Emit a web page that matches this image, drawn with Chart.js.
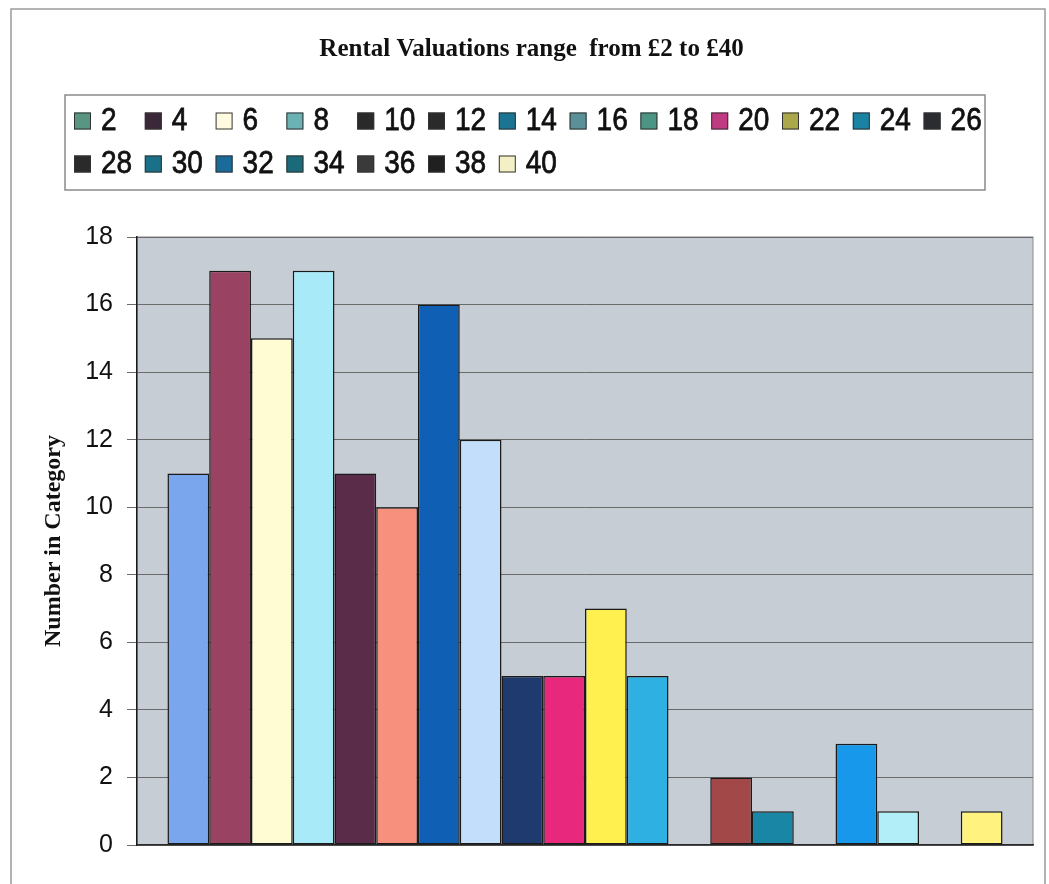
<!DOCTYPE html>
<html>
<head>
<meta charset="utf-8">
<script src="https://cdn.jsdelivr.net/npm/chart.js@4/dist/chart.umd.min.js"></script>
<style>
  html, body { margin: 0; padding: 0; background: #ffffff; }
  #wrap { width: 1049px; height: 884px; }
</style>
</head>
<body>
<div id="wrap"><canvas id="c" width="1049" height="884"></canvas></div>
<script>
// ---- data ----
const chartTitle = 'Rental Valuations range  from £2 to £40';
const yAxisTitle = 'Number in Category';
const categories = [''];
const seriesNames = ['2','4','6','8','10','12','14','16','18','20','22','24','26','28','30','32','34','36','38','40'];
const seriesValues = [11,17,15,17,11,10,16,12,5,5,7,5,0,2,1,0,3,1,0,1];
const barColors = ['#7aa6ee','#9a4262','#fffbd2','#a8eaf8','#5a2c4a','#f8907e','#0f5fb5','#c2defa','#1f3a6e','#e8287c','#fff050','#2eb0e2','#800080','#a24848','#1a86a6','#0000ff','#1898ea','#b2eef8','#ccffcc','#fff27e'];
const legendSwatchColors = ['#5a9482','#3a2838','#fffbe0','#6ab2b4','#2a2a2a','#2a2a2a','#1a7492','#5a9098','#4c9484','#c03a82','#aaa84a','#1a82a2','#2a2c32','#2a2a2a','#1a7088','#1a6a9a','#1a6a7a','#3a3a3a','#202020','#f2f0c4'];
const yMin = 0, yMax = 18, yStep = 2;

const datasets = seriesNames.map((name, i) => ({
  label: name,
  data: [seriesValues[i]],
  backgroundColor: barColors[i],
  borderColor: '#1a1a1a',
  borderWidth: 1.5,
  borderSkipped: false,
  categoryPercentage: 0.932,
  barPercentage: 1.0
}));

const decorPlugin = {
  id: 'decor',
  beforeDraw(chart) {
    const ctx = chart.ctx, a = chart.chartArea;
    ctx.save();
    ctx.fillStyle = '#ffffff';
    ctx.fillRect(0, 0, chart.width, chart.height);
    // outer frame
    ctx.strokeStyle = '#9a9a9a';
    ctx.lineWidth = 1.5;
    ctx.beginPath();
    ctx.moveTo(11, 884); ctx.lineTo(11, 9); ctx.lineTo(1045, 9); ctx.lineTo(1045, 884);
    ctx.stroke();
    // plot background
    ctx.fillStyle = '#c6cdd4';
    ctx.fillRect(a.left, a.top, a.right - a.left, a.bottom - a.top);
    ctx.strokeStyle = '#8a8a8a';
    ctx.lineWidth = 1;
    ctx.strokeRect(a.left, a.top, a.right - a.left, a.bottom - a.top);
    ctx.restore();
  },
  afterDraw(chart) {
    const ctx = chart.ctx;
    ctx.save();
    // legend box
    ctx.strokeStyle = '#8a8a8a';
    ctx.lineWidth = 1.5;
    ctx.strokeRect(65, 95, 920, 95);
    const perRow = 13, step = 70.8, x0 = 74, rows = [121, 164], sw = 17;
    ctx.textBaseline = 'middle';
    ctx.textAlign = 'left';
    chart.data.datasets.forEach((ds, i) => {
      const r = Math.floor(i / perRow), c = i % perRow;
      const x = x0 + c * step, y = rows[r];
      ctx.fillStyle = legendSwatchColors[i];
      ctx.fillRect(x, y - sw / 2, sw, sw);
      ctx.strokeStyle = '#333333';
      ctx.lineWidth = 1;
      ctx.strokeRect(x + 0.5, y - sw / 2 + 0.5, sw - 1, sw - 1);
      ctx.save();
      ctx.translate(x + 27, y + 1);
      ctx.scale(1, 1.1);
      ctx.font = '28px "Liberation Sans", Arial, sans-serif';
      ctx.fillStyle = '#111111';
      ctx.strokeStyle = '#111111';
      ctx.lineWidth = 0.7;
      ctx.fillText(ds.label, 0, 0);
      ctx.strokeText(ds.label, 0, 0);
      ctx.restore();
    });
    ctx.restore();
  }
};

new Chart(document.getElementById('c'), {
  type: 'bar',
  data: { labels: categories, datasets },
  options: {
    responsive: false,
    animation: false,
    layout: { padding: { left: 30, right: 16, top: 0, bottom: 0 } },
    plugins: {
      legend: { display: false },
      tooltip: { enabled: false },
      title: {
        display: true,
        text: chartTitle,
        color: '#111111',
        font: { family: '"Liberation Serif", "Times New Roman", serif', weight: 'bold', size: 25 },
        padding: { top: 35, bottom: 172 }
      }
    },
    scales: {
      x: {
        ticks: { display: false },
        grid: { display: false },
        border: { display: true, color: '#2a2a2a', width: 1.5 },
        afterFit(s) { s.height = 39; }
      },
      y: {
        min: yMin, max: yMax,
        ticks: {
          stepSize: yStep,
          color: '#111111',
          padding: 14,
          font: { family: '"Liberation Sans", Arial, sans-serif', size: 25 }
        },
        grid: { color: '#6a6a6a', lineWidth: 1, tickLength: 10, tickColor: '#6a6a6a', drawTicks: true },
        border: { display: true, color: '#1a1a1a', width: 1.5 },
        title: {
          display: true,
          text: yAxisTitle,
          color: '#111111',
          font: { family: '"Liberation Serif", "Times New Roman", serif', weight: 'bold', size: 24 },
          padding: { top: 9.6, bottom: 0 }
        },
        afterFit(s) { s.width = 107; }
      }
    }
  },
  plugins: [decorPlugin]
});
</script>
</body>
</html>
